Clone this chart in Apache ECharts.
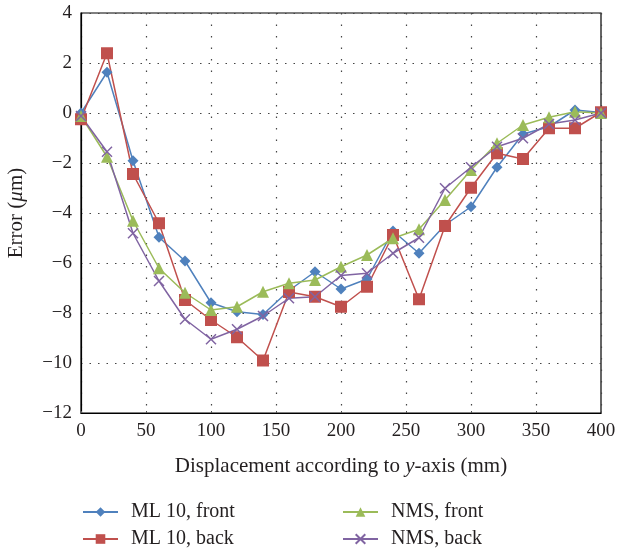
<!DOCTYPE html>
<html><head><meta charset="utf-8">
<script src="https://cdn.jsdelivr.net/npm/echarts@6/dist/echarts.min.js"></script>
<style>html,body{margin:0;padding:0;background:#fff}#c{width:618px;height:552px}</style>
</head><body><div id="c"></div>
<script>
const xValues = [0,20,40,60,80,100,120,140,160,180,200,220,240,260,280,300,320,340,360,380,400];
const ml10Front = [0.0,1.63,-1.91,-4.97,-5.92,-7.59,-7.95,-8.06,-7.1,-6.35,-7.04,-6.64,-4.72,-5.61,-4.48,-3.75,-2.17,-0.84,-0.55,0.12,0.02];
const ml10Back  = [-0.25,2.39,-2.44,-4.41,-7.48,-8.28,-8.97,-9.9,-7.16,-7.35,-7.75,-6.95,-4.88,-7.45,-4.52,-2.99,-1.61,-1.84,-0.61,-0.61,0.03];
const nmsFront  = [-0.12,-1.75,-4.31,-6.21,-7.19,-7.88,-7.75,-7.15,-6.81,-6.68,-6.15,-5.68,-5.01,-4.65,-3.48,-2.28,-1.21,-0.48,-0.17,0.05,0.0];
const nmsBack   = [-0.12,-1.55,-4.81,-6.72,-8.25,-9.05,-8.65,-8.12,-7.41,-7.35,-6.5,-6.41,-5.61,-4.99,-3.01,-2.17,-1.35,-1.01,-0.44,-0.28,0.0];
const seriesNames = ['ML 10, front','ML 10, back','NMS, front','NMS, back'];
const yTicks = {min:-12,max:4,interval:2};
const xTicks = {min:0,max:400,interval:50};

const font = '"Liberation Serif","DejaVu Serif",serif';
const txt = '#231f20';
const colors = ['#4F81BD','#C0504D','#9BBB59','#8064A2'];
const pair = arr => xValues.map((x,i)=>[x,arr[i]]);
const minus = v => String(v).replace('-','\u2212');
const xPath = 'path://M0,0L10,10M10,0L0,10';

const legendPos = [[77,497],[77,524],[337,497],[337,524]];
const legends = seriesNames.map((n,i)=>({
  data:[n],left:legendPos[i][0],top:legendPos[i][1],itemWidth:35,itemHeight:12,
  textStyle:{fontFamily:font,fontSize:20,color:txt,padding:[0,0,0,8]}
}));

const chart = echarts.init(document.getElementById('c'));
chart.setOption({
  animation:false,
  textStyle:{fontFamily:font},
  grid:{left:81,right:17,top:13,bottom:139,containLabel:false,outerBoundsMode:'none',
    show:true,borderColor:'#000',borderWidth:1.2,backgroundColor:'transparent'},
  xAxis:{type:'value',min:xTicks.min,max:xTicks.max,interval:xTicks.interval,
    name:'Displacement according to {i|y}-axis (mm)',nameLocation:'middle',nameGap:43,
    nameTextStyle:{fontFamily:font,fontSize:21,color:txt,rich:{i:{fontFamily:font,fontStyle:'italic',fontSize:21,color:txt}}},
    axisLine:{onZero:false,lineStyle:{color:'#000',width:1.2}},
    axisTick:{show:true,inside:true,length:2,lineStyle:{color:'#555'}},
    axisLabel:{fontFamily:font,fontSize:19,color:txt,margin:9},
    splitLine:{show:true,lineStyle:{color:'#444',type:[1.5,10],width:1.2}}},
  yAxis:{type:'value',min:yTicks.min,max:yTicks.max,interval:yTicks.interval,
    name:'Error ({i|\u03bc}m)',nameLocation:'middle',nameGap:54,nameRotate:90,
    nameTextStyle:{fontFamily:font,fontSize:21,color:txt,rich:{i:{fontFamily:font,fontStyle:'italic',fontSize:21,color:txt}}},
    axisLine:{show:true,onZero:false,lineStyle:{color:'#000',width:1.2}},
    axisTick:{show:false},
    axisLabel:{fontFamily:font,fontSize:19,color:txt,margin:9,formatter:minus},
    splitLine:{show:true,lineStyle:{color:'#444',type:[1.5,7],width:1.2}}},
  legend:legends,
  series:[
    {name:seriesNames[0],type:'line',data:pair(ml10Front),symbol:'diamond',symbolSize:11,
     lineStyle:{color:colors[0],width:1.5},itemStyle:{color:colors[0]}},
    {name:seriesNames[1],type:'line',data:pair(ml10Back),symbol:'rect',symbolSize:12,
     lineStyle:{color:colors[1],width:1.5},itemStyle:{color:colors[1]}},
    {name:seriesNames[2],type:'line',data:pair(nmsFront),symbol:'triangle',symbolSize:12,
     lineStyle:{color:colors[2],width:1.5},itemStyle:{color:colors[2]}},
    {name:seriesNames[3],type:'line',data:pair(nmsBack),symbol:xPath,symbolSize:10,
     lineStyle:{color:colors[3],width:1.5},itemStyle:{color:'rgba(0,0,0,0)',borderColor:colors[3],borderWidth:1.5}}
  ]
});
</script></body></html>
